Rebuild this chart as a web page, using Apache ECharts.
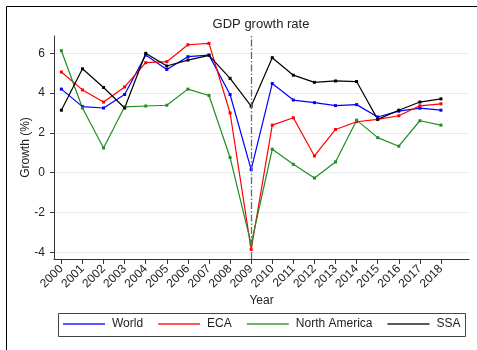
<!DOCTYPE html>
<html>
<head>
<meta charset="utf-8">
<script src="https://cdn.jsdelivr.net/npm/echarts@6/dist/echarts.min.js"></script>
<style>html,body{margin:0;padding:0;background:#fff}#c{width:477px;height:350px}</style>
</head>
<body>
<div id="c"></div>
<script>
var years = [2000,2001,2002,2003,2004,2005,2006,2007,2008,2009,2010,2011,2012,2013,2014,2015,2016,2017,2018];
var world = [4.2,3.32,3.25,3.93,5.91,5.19,5.83,5.91,3.93,0.15,4.48,3.65,3.52,3.37,3.42,2.8,3.09,3.24,3.14];
var eca = [5.06,4.16,3.55,4.31,5.53,5.58,6.43,6.5,3.0,-3.86,2.39,2.76,0.84,2.17,2.56,2.68,2.86,3.36,3.46];
var northAmerica = [6.13,3.25,1.24,3.31,3.35,3.39,4.2,3.88,0.76,-3.59,1.18,0.42,-0.27,0.54,2.64,1.76,1.33,2.61,2.39];
var ssa = [3.14,5.22,4.28,3.25,6.0,5.36,5.66,5.9,4.74,3.34,5.78,4.9,4.54,4.61,4.58,2.68,3.14,3.55,3.71];
var yTicks = [-4,-2,0,2,4,6];
var crisisYear = 2009;

var FONT = '"Liberation Sans", Arial, sans-serif';
function pairs(arr){ return years.map(function(y,i){ return [y, arr[i]]; }); }
function mk(name, data, color){
  return {name:name, type:'line', data:pairs(data), symbol:'rect', symbolSize:3,
    lineStyle:{color:color, width:1.2}, itemStyle:{color:color}, animation:false};
}
var series = [
  mk('World', world, '#0000ff'),
  mk('ECA', eca, '#ff0000'),
  mk('North America', northAmerica, '#228b22'),
  mk('SSA', ssa, '#000000')
];
series[0].markLine = {silent:true, symbol:'none', label:{show:false},
  lineStyle:{color:'#4f6f8f', width:1.3, type:[7,2,1.5,2]},
  data:[{xAxis:crisisYear}]};
series[0].z = 3;

var chart = echarts.init(document.getElementById('c'), null, {renderer:'canvas'});
chart.setOption({
  backgroundColor:'#fff',
  animation:false,
  title:{text:'GDP growth rate', left:256, top:13, textAlign:'center',
    textStyle:{fontFamily:FONT, fontSize:13, fontWeight:'normal', color:'#222'}},
  grid:{left:54, top:36, right:8, bottom:91, containLabel:false},
  xAxis:{type:'value', min:1999.65, max:2019.33,
    name:'Year', nameLocation:'middle', nameGap:36, nameMoveOverlap:false,
    nameTextStyle:{fontFamily:FONT, fontSize:12, color:'#222'},
    axisLine:{show:true, onZero:false, lineStyle:{color:'#333', width:1}},
    axisTick:{show:true, length:5, customValues:years, lineStyle:{color:'#333'}},
    axisLabel:{customValues:years, rotate:45, margin:8, fontFamily:FONT, fontSize:12, color:'#222',
      formatter:function(v){return String(Math.round(v));}},
    splitLine:{show:false}},
  yAxis:{type:'value', min:-4.34, max:6.87,
    name:'Growth (%)', nameLocation:'middle', nameGap:22, nameRotate:90, nameMoveOverlap:false,
    nameTextStyle:{fontFamily:FONT, fontSize:12, color:'#222'},
    axisLine:{show:true, lineStyle:{color:'#333', width:1}},
    axisTick:{show:true, length:4, customValues:yTicks, lineStyle:{color:'#333'}},
    axisLabel:{customValues:yTicks, margin:9, fontFamily:FONT, fontSize:12, color:'#222'},
    splitLine:{show:true, lineStyle:{color:'#e4ecee', width:1}}},
  legend:{left:63, top:318, orient:'horizontal', itemWidth:42, itemHeight:2, itemGap:15, padding:0,
    icon:'rect', itemStyle:{opacity:0.65},
    textStyle:{fontFamily:FONT, fontSize:12, color:'#222', padding:[0,0,0,2]},
    data:['World','ECA','North America','SSA']},
  graphic:[
    {type:'rect', shape:{x:6.5, y:6.5, width:500, height:400}, style:{fill:null, stroke:'#000', lineWidth:1}, silent:true},
    {type:'rect', shape:{x:58.5, y:313.5, width:407, height:23}, style:{fill:null, stroke:'#444', lineWidth:1}, silent:true}
  ],
  series:series
});
</script>
</body>
</html>
